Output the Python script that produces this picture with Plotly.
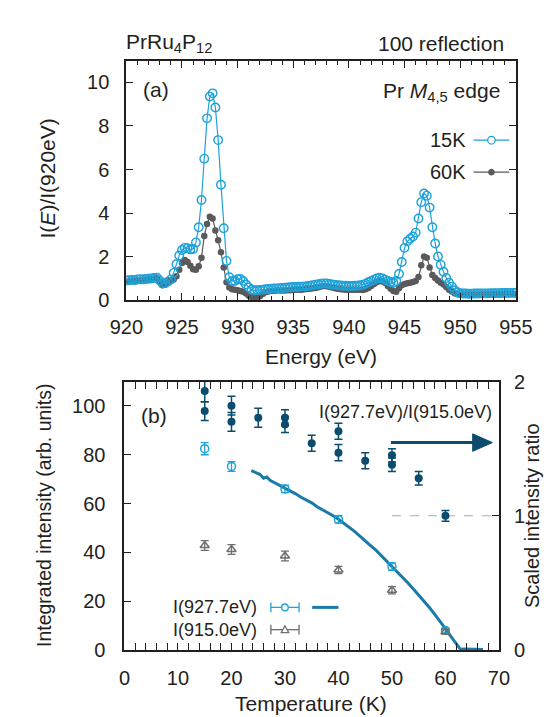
import plotly.graph_objects as go

# ---------------- data: panel (a) ----------------
energy = [920.00, 920.25, 920.50, 920.75, 921.00, 921.25, 921.50, 921.75, 922.00, 922.25, 922.50, 922.75,
          923.00, 923.25, 923.50, 923.75, 924.00, 924.25, 924.50, 924.75, 925.00, 925.25, 925.50, 925.75,
          926.00, 926.25, 926.50, 926.75, 927.00, 927.25, 927.50, 927.75, 928.00, 928.25, 928.50, 928.75,
          929.00, 929.25, 929.50, 929.75, 930.00, 930.25, 930.50, 930.75, 931.00, 931.25, 931.50, 931.75,
          932.00, 932.25, 932.50, 932.75, 933.00, 933.25, 933.50, 933.75, 934.00, 934.25, 934.50, 934.75,
          935.00, 935.25, 935.50, 935.75, 936.00, 936.25, 936.50, 936.75, 937.00, 937.25, 937.50, 937.75,
          938.00, 938.25, 938.50, 938.75, 939.00, 939.25, 939.50, 939.75, 940.00, 940.25, 940.50, 940.75,
          941.00, 941.25, 941.50, 941.75, 942.00, 942.25, 942.50, 942.75, 943.00, 943.25, 943.50, 943.75,
          944.00, 944.25, 944.50, 944.75, 945.00, 945.25, 945.50, 945.75, 946.00, 946.25, 946.50, 946.75,
          947.00, 947.25, 947.50, 947.75, 948.00, 948.25, 948.50, 948.75, 949.00, 949.25, 949.50, 949.75,
          950.00, 950.25, 950.50, 950.75, 951.00, 951.25, 951.50, 951.75, 952.00, 952.25, 952.50, 952.75,
          953.00, 953.25, 953.50, 953.75, 954.00, 954.25, 954.50, 954.75, 955.00]

i_15K = [0.90, 0.92, 0.93, 0.92, 0.95, 0.96, 0.95, 0.97, 0.98, 0.99, 1.02, 1.03,
         0.90, 0.76, 0.78, 0.85, 0.95, 1.25, 1.65, 2.05, 2.30, 2.40, 2.38, 2.33,
         2.35, 2.65, 3.35, 4.60, 6.50, 8.35, 9.35, 9.50, 8.85, 7.35, 5.30, 3.30,
         1.80, 1.05, 0.88, 0.88, 0.96, 0.97, 0.88, 0.72, 0.58, 0.48, 0.45, 0.46,
         0.47, 0.48, 0.50, 0.51, 0.52, 0.53, 0.54, 0.55, 0.56, 0.57, 0.58, 0.59,
         0.60, 0.60, 0.61, 0.62, 0.63, 0.64, 0.66, 0.69, 0.71, 0.73, 0.75, 0.77,
         0.76, 0.74, 0.72, 0.70, 0.68, 0.67, 0.66, 0.66, 0.65, 0.65, 0.66, 0.66,
         0.68, 0.70, 0.75, 0.82, 0.88, 0.94, 1.00, 1.03, 1.00, 0.94, 0.88, 0.83,
         0.80, 0.88, 1.20, 1.75, 2.40, 2.70, 2.82, 2.92, 3.10, 3.75, 4.50, 4.90,
         4.80, 4.25, 3.35, 2.60, 2.00, 1.62, 1.30, 1.02, 0.80, 0.62, 0.45, 0.36,
         0.32, 0.30, 0.30, 0.29, 0.29, 0.30, 0.30, 0.30, 0.31, 0.31, 0.31, 0.32,
         0.32, 0.32, 0.32, 0.33, 0.33, 0.33, 0.33, 0.33, 0.34]

i_60K = [0.85, 0.86, 0.87, 0.87, 0.88, 0.89, 0.90, 0.92, 0.93, 0.94, 0.98, 1.00,
         0.85, 0.68, 0.72, 0.85, 0.90, 0.95, 1.10, 1.40, 1.70, 1.84, 1.75, 1.58,
         1.42, 1.40, 1.55, 1.95, 2.95, 3.50, 3.83, 3.75, 3.20, 2.75, 2.20, 1.50,
         0.82, 0.58, 0.50, 0.47, 0.45, 0.42, 0.38, 0.30, 0.20, 0.14, 0.12, 0.13,
         0.18, 0.28, 0.36, 0.40, 0.42, 0.43, 0.44, 0.44, 0.44, 0.44, 0.45, 0.45,
         0.46, 0.47, 0.48, 0.48, 0.50, 0.51, 0.52, 0.54, 0.56, 0.59, 0.62, 0.65,
         0.64, 0.61, 0.58, 0.55, 0.52, 0.50, 0.49, 0.48, 0.48, 0.48, 0.48, 0.48,
         0.48, 0.46, 0.50, 0.56, 0.65, 0.74, 0.82, 0.88, 0.85, 0.80, 0.65, 0.52,
         0.42, 0.38, 0.55, 0.68, 0.74, 0.77, 0.80, 0.83, 0.88, 1.06, 1.60, 2.00,
         1.95, 1.50, 1.15, 1.02, 0.90, 0.80, 0.72, 0.60, 0.48, 0.40, 0.32, 0.27,
         0.25, 0.25, 0.24, 0.24, 0.25, 0.25, 0.25, 0.25, 0.26, 0.26, 0.26, 0.26,
         0.27, 0.27, 0.27, 0.27, 0.28, 0.28, 0.28, 0.28, 0.28]

energy_ticks = [920, 925, 930, 935, 940, 945, 950, 955]

# ---------------- data: panel (b) ----------------
temp_927 = [15, 20, 30, 40, 50, 60]
int_927 = [82.5, 75.2, 66.0, 53.5, 34.2, 8.0]
err_927 = [2.5, 2.0, 1.5, 1.5, 1.5, 1.0]

temp_915 = [15, 20, 30, 40, 50, 60]
int_915 = [42.8, 41.2, 38.5, 32.8, 24.5, 7.5]
err_915 = [2.0, 2.0, 2.0, 1.5, 1.5, 1.0]

temp_ratio = [15, 15, 20, 20, 25, 30, 30, 35, 40, 40, 45, 50, 50, 55, 60]
ratio = [1.93, 1.78, 1.82, 1.70, 1.73, 1.73, 1.68, 1.54, 1.63, 1.47, 1.41, 1.45, 1.38, 1.28, 1.00]
err_ratio = [0.08, 0.07, 0.07, 0.07, 0.07, 0.06, 0.06, 0.06, 0.06, 0.06, 0.06, 0.05, 0.05, 0.05, 0.04]

temp_scan = [23.7, 24.5, 25.3, 26.0, 26.6, 27.2, 28.0, 28.7, 29.5, 30.3, 31.2, 32.0, 33.0, 34.0,
             35.0, 36.0, 37.0, 38.0, 39.0, 40.0, 41.0, 42.0, 43.0, 44.0, 45.0, 46.0, 47.0, 48.0,
             49.0, 50.0, 51.0, 52.0, 53.0, 54.0, 55.0, 56.0, 57.0, 58.0, 59.0, 60.0, 60.8, 61.5,
             62.2, 62.8, 63.5, 64.5, 65.5, 67.0]
int_scan = [73.5, 72.6, 72.0, 70.4, 70.9, 69.5, 68.6, 67.9, 67.0, 65.9, 65.0, 64.0, 62.6, 61.4,
            60.3, 58.7, 57.5, 56.4, 55.0, 53.6, 52.0, 50.2, 48.6, 46.7, 44.9, 42.8, 40.9, 38.7,
            36.6, 34.3, 32.1, 29.7, 27.5, 25.0, 22.6, 20.0, 17.4, 14.6, 11.8, 8.8, 6.2, 4.0,
            1.8, 0.3, 0.4, 0.2, 0.3, 0.2]

temp_ticks = [0, 10, 20, 30, 40, 50, 60, 70]

# ---------------- styling ----------------
W, H = 553, 717
FONT = "Liberation Sans, Arial, sans-serif"
CYAN = "#1ea2d8"
GRAY = "#5a5a5a"
DARK = "#0b4c6e"
LINEB = "#1a7bab"
AX = "#231f20"


def px(x):
    return x / W


def py(y):
    return 1 - y / H


fig = go.Figure()

# panel (a)
fig.add_trace(go.Scatter(x=energy, y=i_60K, mode="lines+markers", xaxis="x", yaxis="y",
                         line=dict(color=GRAY, width=1.2),
                         marker=dict(symbol="circle", size=6.5, color=GRAY), showlegend=False))
fig.add_trace(go.Scatter(x=energy, y=i_15K, mode="lines+markers", xaxis="x", yaxis="y",
                         line=dict(color=CYAN, width=1.2),
                         marker=dict(symbol="circle-open", size=8.5, color=CYAN, line=dict(width=1.4)),
                         showlegend=False))

# panel (b)
fig.add_trace(go.Scatter(x=temp_scan, y=int_scan, mode="lines", xaxis="x2", yaxis="y2",
                         line=dict(color=LINEB, width=3), showlegend=False))
fig.add_trace(go.Scatter(x=temp_927, y=int_927, mode="markers", xaxis="x2", yaxis="y2",
                         error_y=dict(type="data", array=err_927, color=CYAN, thickness=1.3, width=4),
                         marker=dict(symbol="circle-open", size=8, color=CYAN, line=dict(width=1.5)),
                         showlegend=False))
fig.add_trace(go.Scatter(x=temp_915, y=int_915, mode="markers", xaxis="x2", yaxis="y2",
                         error_y=dict(type="data", array=err_915, color="#6e6e6e", thickness=1.3, width=4),
                         marker=dict(symbol="triangle-up-open", size=8, color="#6e6e6e", line=dict(width=1.5)),
                         showlegend=False))
fig.add_trace(go.Scatter(x=temp_ratio, y=ratio, mode="markers", xaxis="x2", yaxis="y3",
                         error_y=dict(type="data", array=err_ratio, color=DARK, thickness=1.5, width=4),
                         marker=dict(symbol="circle", size=8, color=DARK),
                         showlegend=False))

shapes = []
# dashed reference line at ratio 1
shapes.append(dict(type="line", xref="x2", yref="y3", x0=50, x1=70, y0=1, y1=1,
                   line=dict(color="#aaaaaa", width=1, dash="dash"), layer="below"))
# arrow pointing to right axis
shapes.append(dict(type="line", xref="paper", yref="paper", x0=px(390), x1=px(480), y0=py(437), y1=py(437),
                   line=dict(color=DARK, width=3)))
shapes.append(dict(type="path", xref="paper", yref="paper",
                   path=f"M {px(477)} {py(428)} L {px(498)} {py(437)} L {px(477)} {py(446)} Z",
                   fillcolor=DARK, line=dict(color=DARK, width=1)))

# legend (a)
for yy, col in [(125, CYAN), (158, GRAY)]:
    shapes.append(dict(type="line", xref="paper", yref="paper", x0=px(478), x1=px(516), y0=py(yy), y1=py(yy),
                       line=dict(color=col, width=1.2)))
shapes.append(dict(type="circle", xref="paper", yref="paper", x0=px(493), x1=px(501), y0=py(129), y1=py(121),
                   line=dict(color=CYAN, width=1.3), fillcolor="white"))
shapes.append(dict(type="circle", xref="paper", yref="paper", x0=px(494), x1=px(500), y0=py(161), y1=py(155),
                   line=dict(color=GRAY, width=1), fillcolor=GRAY))

# legend (b)
for yy, col in [(607, CYAN), (630, "#6e6e6e")]:
    shapes.append(dict(type="line", xref="paper", yref="paper", x0=px(262), x1=px(292), y0=py(yy), y1=py(yy),
                       line=dict(color=col, width=1.3)))
    for xx in (262, 292):
        shapes.append(dict(type="line", xref="paper", yref="paper", x0=px(xx), x1=px(xx), y0=py(yy - 5), y1=py(yy + 5),
                           line=dict(color=col, width=1.3)))
shapes.append(dict(type="circle", xref="paper", yref="paper", x0=px(273.5), x1=px(280.5), y0=py(610.5), y1=py(603.5),
                   line=dict(color=CYAN, width=1.4), fillcolor="white"))
shapes.append(dict(type="path", xref="paper", yref="paper",
                   path=f"M {px(273)} {py(633)} L {px(281)} {py(633)} L {px(277)} {py(626)} Z",
                   line=dict(color="#6e6e6e", width=1.3), fillcolor="white"))
shapes.append(dict(type="line", xref="paper", yref="paper", x0=px(306), x1=px(334), y0=py(607), y1=py(607),
                   line=dict(color=LINEB, width=3)))

annotations = []


def note(text, x, y, size=18, xanchor="center", yanchor="middle", angle=0, color="#231f20"):
    annotations.append(dict(text=text, x=px(x), y=py(y), xref="paper", yref="paper", showarrow=False,
                            xanchor=xanchor, yanchor=yanchor, textangle=angle,
                            font=dict(family=FONT, size=size, color=color)))


note("PrRu<sub>4</sub>P<sub>12</sub>", 106, 25, size=21, xanchor="left")
note("100 reflection", 513, 25, size=21, xanchor="right")
note("(a)", 124, 73, size=21, xanchor="left")
note("Pr <i>M</i><sub>4,5</sub> edge", 508, 75, size=21, xanchor="right")
note("15K", 472, 125, size=20, xanchor="right")
note("60K", 472, 158, size=20, xanchor="right")
note("I(<i>E</i>)/I(920eV)", 24, 165, size=21, angle=-90)
note("Energy (eV)", 315, 348, size=21)

note("(b)", 122, 409, size=21, xanchor="left")
note("I(927.7eV)/I(915.0eV)", 405, 405, size=18)
note("I(927.7eV)", 249, 607, size=18, xanchor="right")
note("I(915.0eV)", 249, 630, size=18, xanchor="right")
note("Integrated intensity (arb. units)", 21, 512, size=19.5, angle=-90)
note("Scaled intensity ratio", 541, 512, size=20, angle=-90)
note("Temperature (K)", 305, 706, size=21)

axis_common = dict(showline=True, linecolor=AX, linewidth=2, ticks="inside", tickcolor=AX, tickwidth=1.2,
                   showgrid=False, zeroline=False, tickfont=dict(family=FONT, size=20, color=AX))

fig.update_layout(
    width=W, height=H, margin=dict(l=0, r=0, t=0, b=0),
    paper_bgcolor="white", plot_bgcolor="white", showlegend=False,
    font=dict(family=FONT, color=AX),
    xaxis=dict(domain=[px(108), px(523)], anchor="y", range=[920, 955], tickvals=energy_ticks,
               ticklen=7, mirror="allticks", ticklabelstandoff=8,
               minor=dict(dtick=1, ticklen=4, ticks="inside", tickcolor=AX),
               **axis_common),
    yaxis=dict(domain=[py(290), py(43)], anchor="x", range=[0, 11], dtick=2, ticklen=7, mirror="allticks",
               ticklabelstandoff=11, **axis_common),
    xaxis2=dict(domain=[px(106), px(505)], anchor="y2", range=[0, 70], tickvals=temp_ticks,
                ticklen=7, mirror="allticks", ticklabelstandoff=9,
                minor=dict(dtick=2, ticklen=4, ticks="inside", tickcolor=AX),
                **axis_common),
    yaxis2=dict(domain=[py(651), py(374)], anchor="x2", range=[0, 110], dtick=20, ticklen=7, mirror=False,
                ticklabelstandoff=13, **axis_common),
    yaxis3=dict(overlaying="y2", anchor="x2", side="right", range=[0, 2], dtick=1, ticklen=7,
                ticklabelstandoff=9, **axis_common),
    shapes=shapes,
    annotations=annotations,
)

fig.write_html("out.html")
